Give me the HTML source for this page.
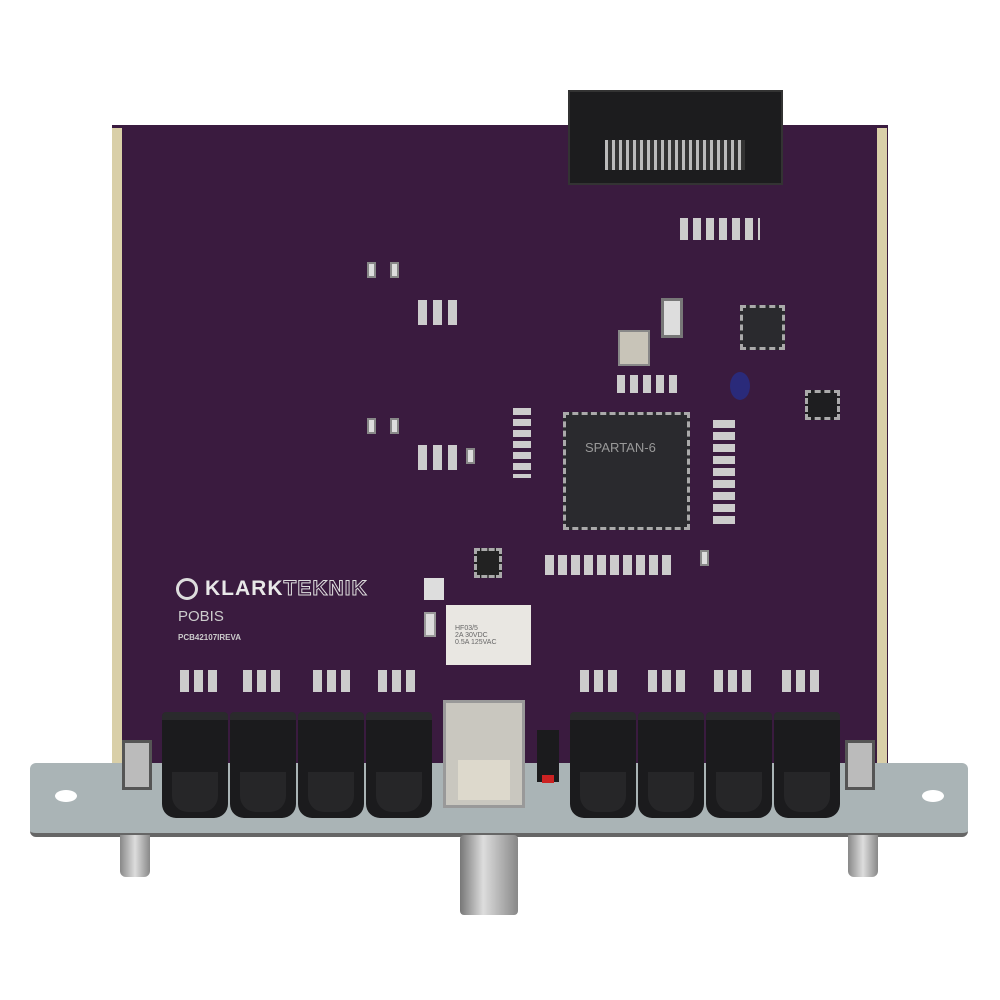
<!DOCTYPE html>
<html><head><style>
body{margin:0;width:1000px;height:1000px;background:#fff;position:relative;overflow:hidden;font-family:"Liberation Sans",sans-serif}
div{position:absolute;box-sizing:border-box}
.pcb{left:112px;top:125px;width:776px;height:640px;background:#3a1b3f}
.edge{top:128px;width:10px;height:640px;background:#d9cfa8}
.jack{top:712px;width:66px;height:106px;background:#1b1b1d;border-radius:4px 4px 14px 14px;border-top:8px solid #2a2a2c}
.jack:after{content:"";position:absolute;left:10px;top:52px;width:46px;height:40px;background:#262628;border-radius:0 0 16px 16px}
.smd{background:#ddd;border:2px solid #888;width:9px;height:16px}
.ic{background:#222;border:3px dashed #aaa}
.t{color:#ddd;font-size:7px}
.leg{top:835px;width:30px;height:42px;background:linear-gradient(90deg,#888,#ddd,#888);border-radius:0 0 6px 6px}
</style></head><body>
<div class="pcb"></div>
<div class="edge" style="left:112px"></div>
<div class="edge" style="left:877px"></div>
<!-- top connector -->
<div style="left:568px;top:90px;width:215px;height:95px;background:#1c1c1e;border:2px solid #333"></div>
<div style="left:605px;top:140px;width:140px;height:30px;background:repeating-linear-gradient(90deg,#bbb 0 3px,#333 3px 7px)"></div>
<!-- FPGA -->
<div class="ic" style="left:563px;top:412px;width:127px;height:118px;background:#2a2a2e"></div>
<div style="left:585px;top:440px;color:#999;font-size:13px">SPARTAN-6</div>
<!-- small ICs -->
<div class="ic" style="left:740px;top:305px;width:45px;height:45px;background:#2a2a2e"></div>
<div class="ic" style="left:805px;top:390px;width:35px;height:30px;background:#1e1e20"></div>
<div class="ic" style="left:474px;top:548px;width:28px;height:30px;background:#222"></div>
<div style="left:618px;top:330px;width:32px;height:36px;background:#c8c4b8;border:2px solid #888"></div>
<div style="left:661px;top:298px;width:22px;height:40px;background:#ddd;border:3px solid #777"></div>
<div style="left:730px;top:372px;width:20px;height:28px;background:#2a2a7a;border-radius:50%"></div>
<!-- smd groups -->
<div style="left:680px;top:218px;width:80px;height:22px;background:repeating-linear-gradient(90deg,#ccc 0 8px,#3a1b3f 8px 13px)"></div>
<div style="left:545px;top:555px;width:130px;height:20px;background:repeating-linear-gradient(90deg,#ccc 0 9px,#3a1b3f 9px 13px)"></div>
<div style="left:617px;top:375px;width:60px;height:18px;background:repeating-linear-gradient(90deg,#ccc 0 8px,#3a1b3f 8px 13px)"></div>
<div style="left:513px;top:408px;width:18px;height:70px;background:repeating-linear-gradient(180deg,#ccc 0 7px,#3a1b3f 7px 11px)"></div>
<div style="left:713px;top:420px;width:22px;height:105px;background:repeating-linear-gradient(180deg,#ccc 0 8px,#3a1b3f 8px 12px)"></div>
<div style="left:418px;top:300px;width:42px;height:25px;background:repeating-linear-gradient(90deg,#ccc 0 9px,#3a1b3f 9px 15px)"></div>
<div style="left:418px;top:445px;width:42px;height:25px;background:repeating-linear-gradient(90deg,#ccc 0 9px,#3a1b3f 9px 15px)"></div>
<div class="smd" style="left:367px;top:262px"></div>
<div class="smd" style="left:367px;top:418px"></div>
<div class="smd" style="left:390px;top:262px"></div>
<div class="smd" style="left:390px;top:418px"></div>
<div class="smd" style="left:466px;top:448px"></div>
<div class="smd" style="left:700px;top:550px"></div>
<!-- logo -->
<div style="left:176px;top:578px;width:22px;height:22px;border:3px solid #ddd;border-radius:50%"></div>
<div style="left:205px;top:577px;color:#e8e8e8;font-size:21px;font-weight:bold;letter-spacing:1px">KLARK<span style="color:#3a1b3f;-webkit-text-stroke:1px #ddd">TEKNIK</span></div>
<div style="left:178px;top:608px;color:#ccc;font-size:15px">POBIS</div>
<div style="left:178px;top:633px;color:#ccc;font-size:8px;font-weight:bold">PCB42107IREVA</div>
<!-- relay -->
<div style="left:446px;top:605px;width:85px;height:60px;background:#e9e7e2"></div>
<div style="left:455px;top:625px;color:#666;font-size:7px">HF03/5<br>2A 30VDC<br>0.5A 125VAC</div>
<div style="left:424px;top:578px;width:20px;height:22px;background:#ddd"></div>
<div style="left:424px;top:612px;width:12px;height:25px;background:#ddd;border:2px solid #999"></div>
<!-- led rows -->
<div style="left:180px;top:670px;width:40px;height:22px;background:repeating-linear-gradient(90deg,#ccc 0 9px,#3a1b3f 9px 14px)"></div>
<div style="left:243px;top:670px;width:40px;height:22px;background:repeating-linear-gradient(90deg,#ccc 0 9px,#3a1b3f 9px 14px)"></div>
<div style="left:313px;top:670px;width:40px;height:22px;background:repeating-linear-gradient(90deg,#ccc 0 9px,#3a1b3f 9px 14px)"></div>
<div style="left:378px;top:670px;width:40px;height:22px;background:repeating-linear-gradient(90deg,#ccc 0 9px,#3a1b3f 9px 14px)"></div>
<div style="left:580px;top:670px;width:40px;height:22px;background:repeating-linear-gradient(90deg,#ccc 0 9px,#3a1b3f 9px 14px)"></div>
<div style="left:648px;top:670px;width:40px;height:22px;background:repeating-linear-gradient(90deg,#ccc 0 9px,#3a1b3f 9px 14px)"></div>
<div style="left:714px;top:670px;width:40px;height:22px;background:repeating-linear-gradient(90deg,#ccc 0 9px,#3a1b3f 9px 14px)"></div>
<div style="left:782px;top:670px;width:40px;height:22px;background:repeating-linear-gradient(90deg,#ccc 0 9px,#3a1b3f 9px 14px)"></div>
<!-- plate -->
<div style="left:30px;top:763px;width:938px;height:74px;background:#aab4b6;border-radius:6px;border-bottom:4px solid #666"></div>
<div style="left:55px;top:790px;width:22px;height:12px;background:#fff;border-radius:50%"></div>
<div style="left:922px;top:790px;width:22px;height:12px;background:#fff;border-radius:50%"></div>
<div class="leg" style="left:120px"></div>
<div class="leg" style="left:848px"></div>
<!-- BNC -->
<div style="left:460px;top:835px;width:58px;height:80px;background:linear-gradient(90deg,#777,#ddd 40%,#888);border-radius:4px"></div>
<!-- jacks -->
<div class="jack" style="left:162px"></div>
<div class="jack" style="left:230px"></div>
<div class="jack" style="left:298px"></div>
<div class="jack" style="left:366px"></div>
<div class="jack" style="left:570px"></div>
<div class="jack" style="left:638px"></div>
<div class="jack" style="left:706px"></div>
<div class="jack" style="left:774px"></div>
<!-- USB -->
<div style="left:443px;top:700px;width:82px;height:108px;background:#c9c7bf;border:3px solid #999"></div>
<div style="left:458px;top:760px;width:52px;height:40px;background:#ddd9cc"></div>
<div style="left:537px;top:730px;width:22px;height:52px;background:#1b1b1d"></div>
<div style="left:542px;top:775px;width:12px;height:8px;background:#c22"></div>
<!-- side brackets -->
<div style="left:122px;top:740px;width:30px;height:50px;background:#bbb;border:3px solid #555"></div>
<div style="left:845px;top:740px;width:30px;height:50px;background:#bbb;border:3px solid #555"></div>
</body></html>
